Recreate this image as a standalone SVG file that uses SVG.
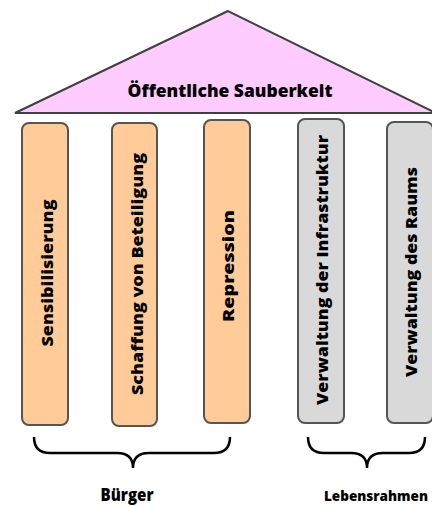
<svg xmlns="http://www.w3.org/2000/svg" width="432" height="506" viewBox="0 0 432 506">
<style>
text{font-family:"Open Sans","Liberation Sans",sans-serif;font-weight:800;fill:#000;text-anchor:middle}
.p{stroke:#555;stroke-width:2}
.o{fill:#FFCC99}
.g{fill:#D9D9D9}
.br{fill:none;stroke:#000;stroke-width:2.5}
.pt{font-size:16px}
</style>
<rect width="432" height="506" fill="#fff"/>
<g id="roof">
<polygon points="228,11 15,113 436,113" fill="#FFCCFF" stroke="#404040" stroke-width="2"/>
<text x="230" y="97" font-size="17" textLength="205" lengthAdjust="spacingAndGlyphs">Öffentliche Sauberkeit</text>
</g>
<g id="pillar1">
<rect class="p o" x="22" y="123" width="46" height="302" rx="7"/>
<text class="pt" transform="translate(53,273) rotate(-90)" textLength="147" lengthAdjust="spacingAndGlyphs">Sensibilisierung</text>
</g>
<g id="pillar2">
<rect class="p o" x="112" y="123" width="45" height="303" rx="7"/>
<text class="pt" transform="translate(143,274) rotate(-90)" textLength="242" lengthAdjust="spacingAndGlyphs">Schaffung von Beteiligung</text>
</g>
<g id="pillar3">
<rect class="p o" x="204" y="120" width="46" height="303" rx="7"/>
<text class="pt" transform="translate(233.5,266) rotate(-90)" textLength="112" lengthAdjust="spacingAndGlyphs">Repression</text>
</g>
<g id="pillar4">
<rect class="p g" x="298" y="119" width="46" height="304" rx="7"/>
<text class="pt" transform="translate(327.5,270) rotate(-90)" textLength="270" lengthAdjust="spacingAndGlyphs">Verwaltung der Infrastruktur</text>
</g>
<g id="pillar5">
<rect class="p g" x="387" y="122" width="46" height="301" rx="7"/>
<text class="pt" transform="translate(416.5,272) rotate(-90)" textLength="210" lengthAdjust="spacingAndGlyphs">Verwaltung des Raums</text>
</g>
<g id="connectors">
<path class="br" d="M34,437 Q34,453 50,453 L117,453 Q133,453 133,468 Q133,453 149,453 L214,453 Q230,453 230,437"/>
<path class="br" d="M308,437 Q308,453 324,453 L351,453 Q367,453 367,468 Q367,453 383,453 L409,453 Q425,453 425,437"/>
</g>
<g id="label-buerger">
<text x="127" y="501" font-size="17" textLength="53" lengthAdjust="spacingAndGlyphs">Bürger</text>
</g>
<g id="label-lebensrahmen">
<text x="376" y="501" font-size="14" textLength="104" lengthAdjust="spacingAndGlyphs">Lebensrahmen</text>
</g>
</svg>
